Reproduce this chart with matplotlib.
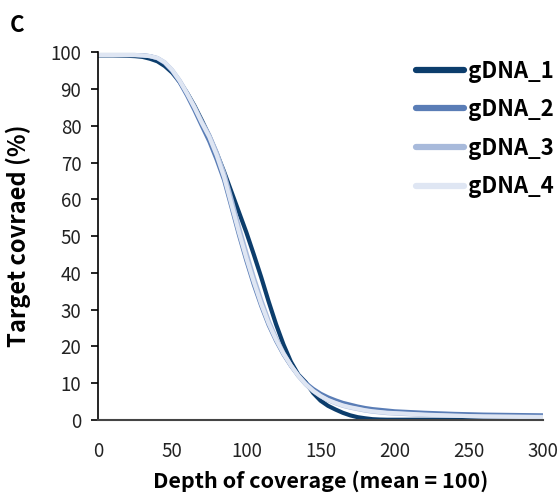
import numpy as np
import matplotlib.pyplot as plt

plt.rcParams['font.family'] = ['Noto Sans CJK KR', 'DejaVu Sans']

depth = [0, 10, 20, 25, 30, 35, 40, 45, 50, 55, 60, 65, 70, 75, 80, 85, 90, 95,
         100, 105, 110, 115, 120, 125, 130, 135, 140, 145, 150, 155, 160, 165,
         170, 175, 180, 185, 190, 195, 200, 220, 240, 260, 280, 300]

gdna_1 = [99.2, 99.2, 99.1, 99.0, 98.8, 98.3, 97.6, 96.3, 94.5, 92.0, 89.0, 85.5,
          81.5, 77.3, 72.6, 67.5, 62.0, 56.5, 51.0, 45.0, 38.8, 32.2, 26.0, 20.5,
          15.8, 12.3, 10.2, 7.3, 5.2, 3.8, 2.8, 1.9, 1.2, 0.7, 0.4, 0.15, 0.05,
          0.0, 0.0, 0.0, 0.0, 0.0, 0.0, 0.0]
gdna_2 = [99.3, 99.3, 99.3, 99.3, 99.2, 99.0, 98.4, 97.1, 94.9, 91.9, 88.3, 84.3,
          80.0, 75.8, 70.8, 65.2, 57.8, 50.3, 43.3, 36.8, 31.0, 25.8, 21.5, 17.8,
          14.7, 12.1, 10.0, 8.4, 7.1, 6.1, 5.3, 4.6, 4.1, 3.6, 3.2, 2.9, 2.7,
          2.5, 2.3, 1.9, 1.6, 1.4, 1.3, 1.2]
gdna_3 = [99.3, 99.3, 99.3, 99.3, 99.2, 99.0, 98.5, 97.3, 95.2, 92.4, 89.0, 85.3,
          81.2, 77.5, 72.8, 67.2, 60.0, 52.5, 45.5, 38.8, 32.6, 27.0, 22.3, 18.2,
          14.8, 11.9, 9.6, 7.8, 6.4, 5.3, 4.5, 3.8, 3.3, 2.9, 2.5, 2.2, 2.0,
          1.8, 1.7, 1.3, 1.1, 0.9, 0.85, 0.8]
gdna_4 = [99.3, 99.3, 99.3, 99.3, 99.2, 99.0, 98.5, 97.3, 95.2, 92.3, 88.8, 85.0,
          80.8, 77.0, 72.0, 66.0, 58.5, 51.0, 44.0, 37.5, 31.5, 26.2, 21.8, 18.0,
          14.8, 12.0, 9.7, 7.9, 6.5, 5.4, 4.6, 3.9, 3.4, 3.0, 2.6, 2.3, 2.1,
          1.9, 1.8, 1.4, 1.1, 0.9, 0.8, 0.7]

names = ['gDNA_1', 'gDNA_2', 'gDNA_3', 'gDNA_4']
colors = ['#0c3d6c', '#5a7db6', '#a8badb', '#dfe6f3']

fig = plt.figure(figsize=(5.57, 4.95), dpi=100)
ax = fig.add_axes([0.176, 0.152, 0.799, 0.742])

for name, vals, c in zip(names, [gdna_1, gdna_2, gdna_3, gdna_4], colors):
    ax.plot(depth, vals, color=c, lw=3.0, label=name, solid_capstyle='round')

ax.set_xlim(0, 300)
ax.set_ylim(0, 100)
ax.set_xticks(range(0, 301, 50))
ax.set_yticks(range(0, 101, 10))
ax.spines['top'].set_visible(False)
ax.spines['right'].set_visible(False)
ax.spines['left'].set_color('black')
ax.spines['bottom'].set_color('#444444')
ax.spines['bottom'].set_linewidth(1.5)
ax.spines['left'].set_linewidth(1.2)
ax.tick_params(axis='x', length=0, pad=15, labelsize=13.5, labelcolor='#222222')
ax.tick_params(axis='y', length=5, width=1.2, pad=7, labelsize=13.5, labelcolor='#222222')

ax.set_xlabel('Depth of coverage (mean = 100)', fontsize=15.5, fontweight='bold', labelpad=6)
ax.set_ylabel('Target covraed (%)', fontsize=17, fontweight='bold', labelpad=14)

leg = ax.legend(loc='upper right', bbox_to_anchor=(1.014, 0.902), bbox_transform=fig.transFigure,
                frameon=False, borderpad=0, handlelength=2.2, handletextpad=0.15,
                labelspacing=0.7, prop={'size': 16, 'weight': 'bold'})
for line in leg.get_lines():
    line.set_linewidth(4.5)

fig.text(0.018, 0.935, 'C', fontsize=16, fontweight='bold')

fig.savefig('out.png', dpi=100)
